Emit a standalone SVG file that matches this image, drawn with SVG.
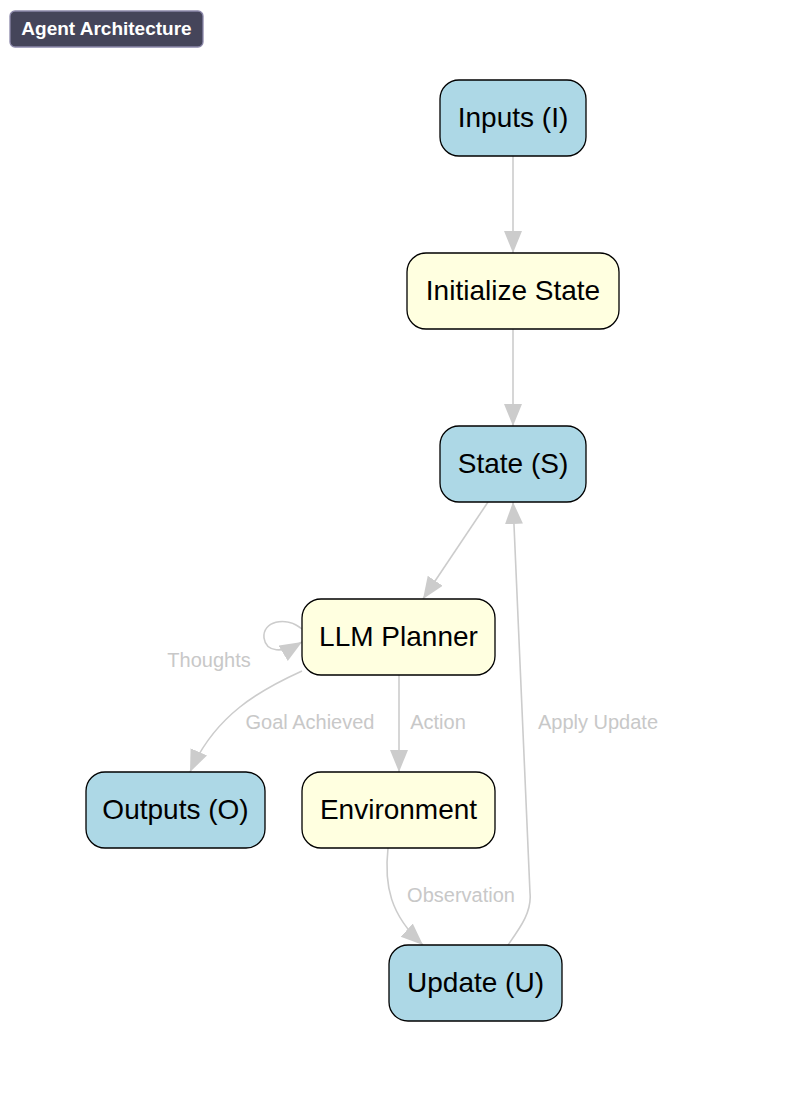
<svg xmlns="http://www.w3.org/2000/svg" width="792" height="1102" viewBox="0 0 792 1102">
<defs>
<style>
.node rect{stroke:#000;stroke-width:1.3}
.blue rect{fill:#add8e6}
.yellow rect{fill:#ffffe0}
.node text{font-family:"Liberation Sans",Arial,sans-serif;font-size:28px;fill:#000;text-anchor:middle}
.edge{fill:none;stroke:#cccccc;stroke-width:1.6}
.lbl{font-family:"Liberation Sans",Arial,sans-serif;font-size:20px;fill:#c8c8c8}
</style>
<marker id="ah" markerUnits="userSpaceOnUse" markerWidth="24" markerHeight="20" refX="22" refY="9" orient="auto">
<path d="M0,0 L22,9 L0,18 z" fill="#cccccc"/>
</marker>
</defs>
<rect width="792" height="1102" fill="#fff"/>
<g id="title">
<rect x="10" y="11" width="193" height="36" rx="5" fill="#45455a" stroke="#8c88aa" stroke-width="1.3"/>
<text x="106.5" y="35" font-family="'Liberation Sans',Arial,sans-serif" font-size="19" font-weight="bold" fill="#fff" text-anchor="middle">Agent Architecture</text>
</g>
<g id="connectors">
<path class="edge" d="M513,156 L513,253" marker-end="url(#ah)"/>
<path class="edge" d="M513,329 L513,426" marker-end="url(#ah)"/>
<path class="edge" d="M488,502 L423,599" marker-end="url(#ah)"/>
<path class="edge" d="M302,629 C285,615 262,622 264,638 C266,652 282,654 302,642" marker-end="url(#ah)"/>
<path class="edge" d="M302,671 C260,690 215,715 190,772" marker-end="url(#ah)"/>
<path class="edge" d="M399,675 L399,772" marker-end="url(#ah)"/>
<path class="edge" d="M388,848 C384,885 390,915 423,945" marker-end="url(#ah)"/>
<path class="edge" d="M508,945 C520,928 532,912 530,893 L513,502" marker-end="url(#ah)"/>
<text class="lbl" x="209" y="667" text-anchor="middle">Thoughts</text>
<text class="lbl" x="310" y="729" text-anchor="middle">Goal Achieved</text>
<text class="lbl" x="438" y="729" text-anchor="middle">Action</text>
<text class="lbl" x="598" y="729" text-anchor="middle">Apply Update</text>
<text class="lbl" x="461" y="902" text-anchor="middle">Observation</text>
</g>
<g id="inputs" class="node blue"><rect x="440" y="80" width="146" height="76" rx="19"/><text x="513" y="127">Inputs (I)</text></g>
<g id="initialize" class="node yellow"><rect x="407" y="253" width="212" height="76" rx="19"/><text x="513" y="300">Initialize State</text></g>
<g id="state" class="node blue"><rect x="440" y="426" width="146" height="76" rx="19"/><text x="513" y="473">State (S)</text></g>
<g id="planner" class="node yellow"><rect x="302" y="599" width="193" height="76" rx="19"/><text x="398.5" y="646">LLM Planner</text></g>
<g id="outputs" class="node blue"><rect x="86" y="772" width="179" height="76" rx="19"/><text x="175.5" y="819">Outputs (O)</text></g>
<g id="environment" class="node yellow"><rect x="302" y="772" width="193" height="76" rx="19"/><text x="398.5" y="819">Environment</text></g>
<g id="update" class="node blue"><rect x="389" y="945" width="173" height="76" rx="19"/><text x="475.5" y="992">Update (U)</text></g>
</svg>
